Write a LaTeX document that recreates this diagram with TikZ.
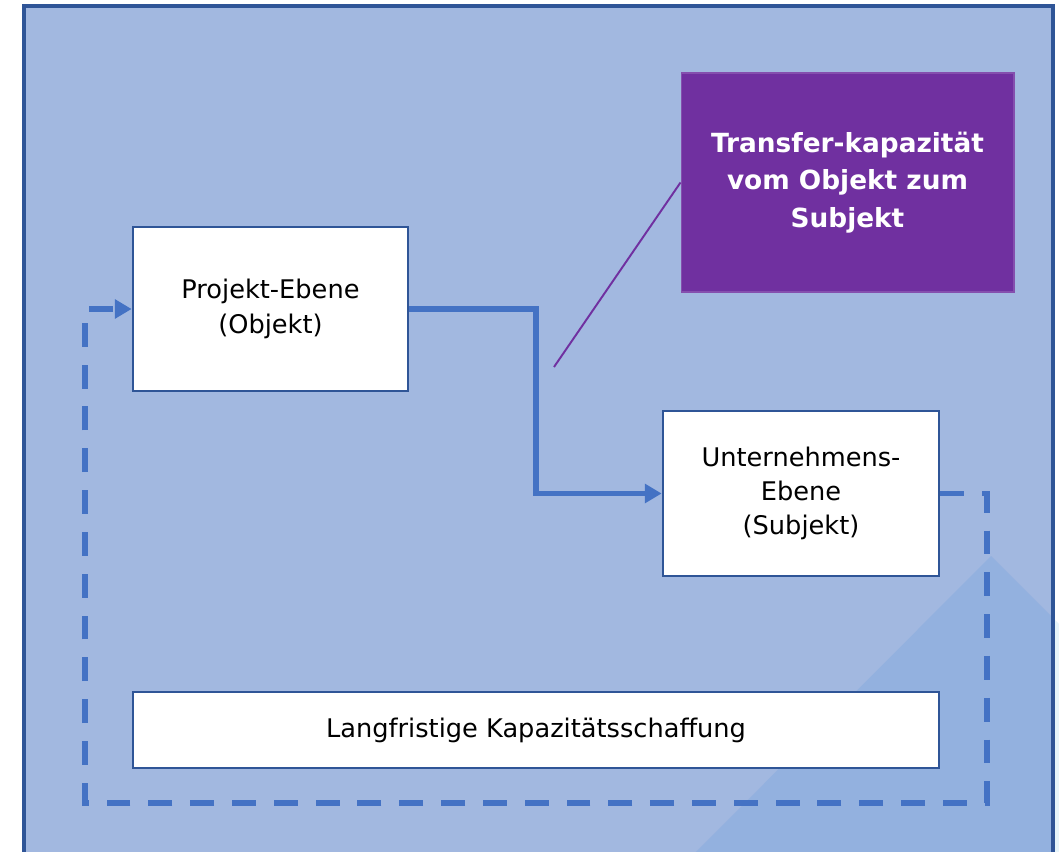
\documentclass[tikz,border=0pt]{standalone}
\usepackage{fontspec}
\setmainfont{DejaVu Sans}
\usetikzlibrary{arrows.meta}
\definecolor{framefill}{HTML}{A2B8E0}
\definecolor{frameblue}{HTML}{2F5597}
\definecolor{trifill}{HTML}{93B1DF}
\definecolor{palecyan}{HTML}{E6F4FA}
\definecolor{flowblue}{HTML}{4472C4}
\definecolor{transferpurple}{HTML}{7030A0}
\begin{document}
\begin{tikzpicture}[x=0.02cm,y=-0.02cm,
    ebene/.style={draw=frameblue,line width=1.6pt,fill=white,align=center,
      inner sep=0pt,font=\fontsize{14.6}{19.5}\selectfont},
    flow/.style={draw=flowblue,line width=3.2pt,
      -{Triangle[length=9.5pt,width=10.5pt]}},
    loopback/.style={flow,dash pattern=on 13.6pt off 10.2pt}]
  \useasboundingbox (0,0) rectangle (1059,852);
  % background
  \fill[palecyan] (991,556) -- (1300,865) -- (683,865) -- cycle;
  \fill[framefill] (24,6) rectangle (1053,870);
  \begin{scope}
    \clip (24,6) rectangle (1053,870);
    \fill[trifill] (991,556) -- (1300,865) -- (683,865) -- cycle;
  \end{scope}
  \draw[frameblue,line width=2pt] (24,6) rectangle (1053,870);
  % boxes
  \node[ebene,minimum width=5.5cm,minimum height=3.28cm] (projekt)
    at (270.5,309) {Projekt-Ebene\\(Objekt)};
  \node[ebene,minimum width=5.52cm,minimum height=3.3cm] (unternehmen)
    at (801,493.5) {Unternehmens-\\Ebene\\(Subjekt)};
  \node[ebene,minimum width=16.12cm,minimum height=1.52cm] (langfristig)
    at (536,730) {Langfristige Kapazitätsschaffung};
  \node[fill=transferpurple,draw=transferpurple!85!white,line width=0.6pt,
    text=white,align=center,inner sep=0pt,
    font=\bfseries\fontsize{15}{21.5}\selectfont,
    minimum width=6.66cm,minimum height=4.38cm] (transfer)
    at (847.5,182.5) {Transfer-kapazität\\vom Objekt zum\\Subjekt};
  % connectors
  \coordinate (hinweis) at (554,367);
  \draw[transferpurple,line width=1.1pt] (hinweis) -- (transfer.west);
  \draw[flow] (projekt.east) -- (536,309) |- (unternehmen.west);
  \draw[loopback] (unternehmen.east) -| (987,803) -| (85,309) -- (projekt.west);
\end{tikzpicture}
\end{document}
